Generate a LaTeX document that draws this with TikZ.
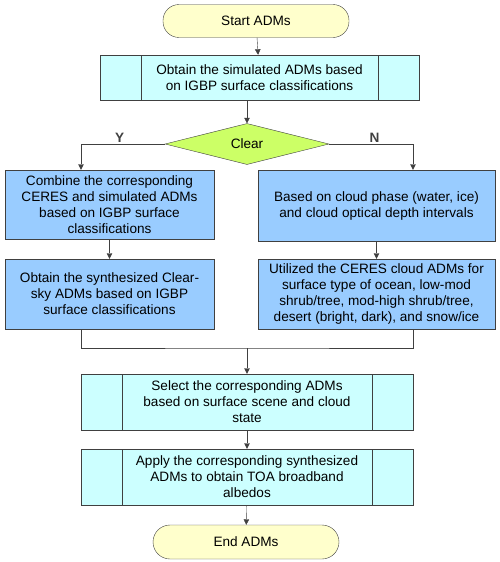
\documentclass[tikz,border=0pt]{standalone}
\usepackage{fontspec}
\setmainfont{Liberation Sans}
\usepackage{tikz}
\usetikzlibrary{shapes.geometric, positioning, arrows.meta, calc}
\usepackage{xcolor}
\definecolor{termfill}{HTML}{FFFFCC}
\definecolor{procfill}{HTML}{CCFFFF}
\definecolor{stepfill}{HTML}{99CCFF}
\definecolor{decfill}{HTML}{CCFF66}
\definecolor{edge}{HTML}{404040}

\begin{document}
\begin{tikzpicture}[x=1pt, y=-1pt,
  font=\fontsize{13.6}{16}\selectfont,
  terminal/.style={
    draw=edge, fill=termfill, rectangle, rounded corners=16pt,
    minimum width=186pt, minimum height=33pt, inner sep=2pt},
  predef/.style={
    draw=edge, fill=procfill, rectangle, align=center, inner sep=2pt,
    path picture={
      \draw[edge] ([xshift=41pt]path picture bounding box.north west)
        -- ([xshift=41pt]path picture bounding box.south west);
      \draw[edge] ([xshift=-41pt]path picture bounding box.north east)
        -- ([xshift=-41pt]path picture bounding box.south east);}},
  stepbox/.style={
    draw=edge, fill=stepfill, rectangle, align=center, inner sep=2pt},
  decision/.style={
    draw=edge, fill=decfill, diamond, aspect=4, inner sep=0pt,
    minimum width=164pt, minimum height=41pt},
  flow/.style={-{Triangle[length=5.5pt, width=5.5pt]}, edge},
  wire/.style={edge},
  branch/.style={font=\fontsize{13.6}{16}\selectfont\bfseries, inner sep=1.5pt}]

\useasboundingbox (0,0) rectangle (500,562);

% --- top: start, simulated ADMs, decision ---
\node[terminal] (start) at (256,21) {Start ADMs};
\node[predef, minimum width=319pt, minimum height=45pt] (simadm) at (259.5,77.5)
  {Obtain the simulated ADMs based\\on IGBP surface classifications};
\node[decision] (clear) at (247,144) {Clear};

% --- clear-sky branch ---
\node[stepbox, minimum width=209pt, minimum height=69pt] (combine) at (109.5,204.5)
  {Combine the corresponding\\CERES and simulated ADMs\\based on IGBP surface\\classifications};
\node[stepbox, minimum width=209pt, minimum height=70pt] (synth) at (109.5,294)
  {Obtain the synthesized Clear-\\sky ADMs based on IGBP\\surface classifications};

% --- cloudy branch ---
\node[stepbox, minimum width=237pt, minimum height=71pt] (phase) at (376.5,205.5)
  {Based on cloud phase (water, ice)\\and cloud optical depth intervals};
\node[stepbox, minimum width=237pt, minimum height=70pt] (ceres) at (376.5,294)
  {Utilized the CERES cloud ADMs for\\surface type of ocean, low-mod\\shrub/tree, mod-high shrub/tree,\\desert (bright, dark), and snow/ice};

% --- bottom: select, apply, end ---
\coordinate (join) at (247,348);
\node[predef, minimum width=332pt, minimum height=56pt] (select) at (247,402)
  {Select the corresponding ADMs\\based on surface scene and cloud\\state};
\node[predef, minimum width=332pt, minimum height=56pt] (apply) at (247,477)
  {Apply the corresponding synthesized\\ADMs to obtain TOA broadband\\albedos};
\node[terminal, minimum height=34pt, rounded corners=17pt] (stop) at (246,542) {End ADMs};

% --- connectors ---
\draw[flow] (start) -- (simadm);
\draw[flow] (simadm.south -| clear.north) -- (clear.north);
\draw[flow] (clear.west) -| node[branch, pos=0.27, above] {Y} ([xshift=-28.5pt]combine.north);
\draw[flow] (clear.east) -| node[branch, pos=0.27, above] {N} ([xshift=36.5pt]phase.north);
\draw[flow] (combine) -- (synth);
\draw[flow] (phase) -- (ceres);
\draw[wire] ([xshift=-28.5pt]synth.south) |- (join) -| ([xshift=36.5pt]ceres.south);
\draw[flow] (join) -- (select);
\draw[flow] (select) -- (apply);
\draw[flow] (apply) -- (stop);
\end{tikzpicture}
\end{document}
